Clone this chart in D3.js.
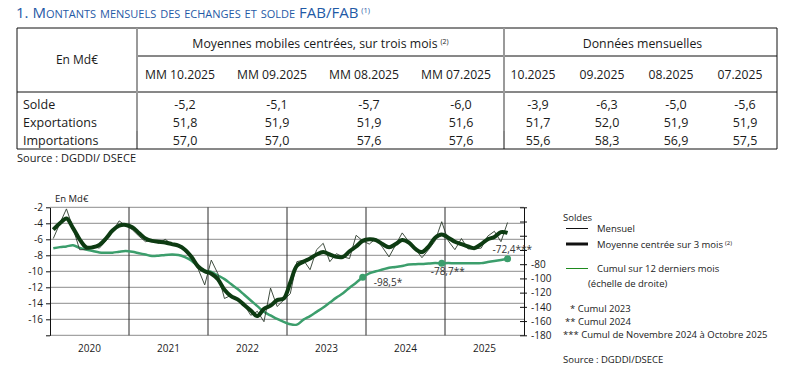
<!DOCTYPE html>
<html>
<head>
<meta charset="utf-8">
<script src="https://cdn.jsdelivr.net/npm/d3@7"></script>
<style>
body{margin:0;background:#fff;}
text{font-family:'Open Sans',sans-serif;fill:#1a1a1a;}
</style>
</head>
<body>
<svg id="chart" width="785" height="369"></svg>
<script>
'use strict';

// table
var tableCols = ['MM 10.2025','MM 09.2025','MM 08.2025','MM 07.2025','10.2025','09.2025','08.2025','07.2025'];
var rowLabels = ['Solde','Exportations','Importations'];
var soldeRow = ['-5,2','-5,1','-5,7','-6,0','-3,9','-6,3','-5,0','-5,6'];
var exportRow = ['51,8','51,9','51,9','51,6','51,7','52,0','51,9','51,9'];
var importRow = ['57,0','57,0','57,6','57,6','55,6','58,3','56,9','57,5'];

// chart, Jan 2020 -> Oct 2025
var years = ['2020','2021','2022','2023','2024','2025'];
var mensuel = [
	-5.9,-4.0,-2.2,-4.6,-7.3,-7.3,-6.9,-7.1,-6.2,-5.0,-3.7,-4.3,
	-4.8,-5.6,-6.3,-6.1,-6.5,-6.0,-6.6,-6.7,-7.3,-8.3,-9.7,-11.7,
	-8.6,-10.3,-13.4,-13.0,-13.6,-14.2,-15.5,-15.0,-16.3,-12.1,-14.4,-13.6,
	-12.8,-8.8,-8.6,-9.8,-7.3,-6.5,-8.8,-7.8,-8.2,-8.4,-5.5,-6.2,
	-6.6,-5.9,-7.0,-8.2,-6.7,-5.2,-6.3,-7.2,-8.3,-7.3,-6.2,-3.8,
	-6.2,-7.3,-5.9,-7.2,-7.2,-7.1,-5.6,-5.0,-6.3,-3.9];
var moyenne = [
	-4.8,-4.0,-3.4,-4.6,-6.0,-7.0,-7.0,-6.7,-5.9,-4.9,-4.3,-4.2,
	-4.5,-5.2,-5.9,-6.2,-6.3,-6.4,-6.6,-6.8,-7.3,-8.2,-9.4,-10.0,
	-10.3,-11.0,-12.3,-13.1,-13.5,-14.2,-14.9,-15.6,-14.7,-14.3,-13.6,-13.4,
	-11.4,-9.3,-8.8,-8.4,-7.9,-7.6,-7.9,-8.2,-8.2,-7.5,-6.9,-6.2,
	-6.0,-6.1,-6.6,-7.0,-6.6,-6.1,-6.4,-7.2,-7.6,-6.9,-5.8,-5.4,
	-5.8,-6.3,-6.6,-6.9,-7.1,-6.6,-6.0,-5.7,-5.1,-5.2];
var cumul = [
	-57.7,-56.0,-55.0,-53.5,-57.0,-59.5,-61.5,-63.5,-63.8,-63.8,-62.5,-61.5,
	-62.5,-64.5,-66.5,-68.5,-68.0,-67.0,-66.5,-67.0,-70.0,-75.0,-83.5,-89.0,
	-91.0,-96.0,-101.0,-108.0,-115.0,-123.0,-131.0,-139.0,-147.0,-152.0,-157.0,-161.0,
	-164.5,-165.0,-158.0,-153.0,-147.0,-141.0,-134.0,-127.0,-121.0,-113.0,-106.0,-98.5,
	-93.0,-90.0,-87.5,-85.0,-84.0,-82.5,-80.5,-80.0,-79.7,-79.0,-78.5,-78.7,
	-78.5,-78.8,-78.8,-78.8,-78.8,-78.5,-77.0,-75.5,-74.0,-72.4];
var cumulMarks = [47, 59, 69];
var cumulLabels = ['-98,5*','-78,7**','-72,4***'];

(function(){
var svg = d3.select('#chart');

//Title
var title = svg.append('text')
	.attr('x', 16).attr('y', 18)
	.style('fill', '#1f5aa6')
	.style('font-size', '15px');
title.append('tspan').text('1. ');
title.append('tspan').style('font-variant', 'small-caps').text('Montants mensuels des echanges et solde');
title.append('tspan').text(' FAB/FAB');
title.append('tspan').attr('dx', 3).attr('dy', -5).style('font-size', '7.5px').text('(1)');

//Table
var tL = 17, tR = 777, tTop = 28, tMid = 56, tHead = 92, tBot = 149, div1 = 137, div2 = 504;
var rowY = [104, 122.5, 140.5];

var mmX = d3.scalePoint().domain(tableCols.slice(0,4)).range([180, 456]);
var monX = d3.scalePoint().domain(tableCols.slice(4)).range([533, 740]);
function colX(c){ return c.indexOf('MM') === 0 ? mmX(c) : monX(c); }

var grid = svg.append('g');
grid.append('line').attr('x1', tL).attr('x2', tR).attr('y1', tTop).attr('y2', tTop).attr('stroke', '#111');
grid.append('line').attr('x1', div1).attr('x2', tR).attr('y1', tMid).attr('y2', tMid).attr('stroke', '#111');
grid.append('line').attr('x1', tL).attr('x2', tR).attr('y1', tHead).attr('y2', tHead).attr('stroke', '#111');
grid.append('line').attr('x1', tL).attr('x2', tR).attr('y1', tBot).attr('y2', tBot).attr('stroke', '#111');
[tL, tR].forEach(function(xx){
	grid.append('line').attr('x1', xx).attr('x2', xx).attr('y1', tTop).attr('y2', tBot).attr('stroke', '#111');
});
[div1, div2].forEach(function(xx){
	grid.append('line').attr('x1', xx).attr('x2', xx).attr('y1', tTop).attr('y2', 131).attr('stroke', '#9a9a9a').attr('stroke-width', 2);
	grid.append('line').attr('x1', xx).attr('x2', xx).attr('y1', 131).attr('y2', tBot).attr('stroke', '#111');
});

svg.append('text').attr('x', (tL + div1) / 2).attr('y', 64).attr('text-anchor', 'middle')
	.style('font-size', '12px').text('En Md€');
var h1 = svg.append('text').attr('x', (div1 + div2) / 2).attr('y', 48).attr('text-anchor', 'middle')
	.style('font-size', '12.3px');
h1.append('tspan').text('Moyennes mobiles centrées, sur trois mois');
h1.append('tspan').attr('dx', 3).attr('dy', -4).style('font-size', '7px').text('(2)');
svg.append('text').attr('x', (div2 + tR) / 2 + 2).attr('y', 48).attr('text-anchor', 'middle')
	.style('font-size', '12.3px').text('Données mensuelles');

svg.selectAll('.colhead')
	.data(tableCols)
	.enter()
	.append('text')
	.classed('colhead', 1)
	.attr('x', function(d){ return colX(d); })
	.attr('y', 79)
	.attr('text-anchor', 'middle')
	.style('font-size', '12.2px')
	.text(function(d){ return d; });

svg.selectAll('.rowlabel')
	.data(rowLabels)
	.enter()
	.append('text')
	.classed('rowlabel', 1)
	.attr('x', 23)
	.attr('y', function(d, i){ return rowY[i] + 4.5; })
	.style('font-size', '12.5px')
	.text(function(d){ return d; });

[soldeRow, exportRow, importRow].forEach(function(row, r){
	svg.append('g').selectAll('text')
		.data(row)
		.enter()
		.append('text')
		.attr('x', function(d, i){ return colX(tableCols[i]) + 5; })
		.attr('y', rowY[r] + 4.5)
		.attr('text-anchor', 'middle')
		.style('font-size', '12.5px')
		.text(function(d){ return d; });
});

svg.append('text').attr('x', 17).attr('y', 161.5).style('font-size', '11px').text('Source : DGDDI/ DSECE');

//Chart
var pLeft = 50, pRight = 524, pTop = 207.3, pBottom = 335.3;
var x = d3.scaleBand().domain(d3.range(years.length * 12)).range([pLeft, pRight]);
var xm = function(i){ return x(i) + x.bandwidth() / 2; };
var yL = d3.scaleLinear().domain([-18, -2]).range([pBottom, pTop]);
var yR = d3.scaleLinear().domain([-180, 0]).range([pBottom, pTop]);

var plot = svg.append('g');
plot.selectAll('.hgrid')
	.data(d3.range(-18, -1, 2))
	.enter()
	.append('line')
	.classed('hgrid', 1)
	.attr('x1', pLeft).attr('x2', pRight)
	.attr('y1', function(d){ return yL(d); })
	.attr('y2', function(d){ return yL(d); })
	.attr('stroke', '#8c8c8c');
plot.selectAll('.vgrid')
	.data(years.slice(1))
	.enter()
	.append('line')
	.classed('vgrid', 1)
	.attr('x1', function(d, i){ return x((i + 1) * 12); })
	.attr('x2', function(d, i){ return x((i + 1) * 12); })
	.attr('y1', pTop).attr('y2', pBottom)
	.attr('stroke', '#2a2a2a');

plot.selectAll('.year')
	.data(years)
	.enter()
	.append('text')
	.classed('year', 1)
	.attr('x', function(d, i){ return x(i * 12) + x.bandwidth() * 6; })
	.attr('y', 352)
	.attr('text-anchor', 'middle')
	.style('font-size', '10px')
	.text(function(d){ return d; });

var axL = svg.append('g').attr('transform', 'translate(' + pLeft + ',0)')
	.call(d3.axisLeft(yL).tickValues(d3.range(-18, -1, 2)).tickSize(4).tickSizeOuter(0)
		.tickFormat(function(d){ return d === -18 ? '' : String(d); }));
var axR = svg.append('g').attr('transform', 'translate(' + pRight + ',0)')
	.call(d3.axisRight(yR).tickValues(d3.range(-180, 1, 20)).tickSize(3).tickSizeOuter(0)
		.tickFormat(function(d){ return d <= -80 ? String(d) : ''; }));
axR.selectAll('.tick line').attr('x1', -4);
[axL, axR].forEach(function(a){
	a.select('.domain').attr('stroke', '#111');
	a.selectAll('.tick line').attr('stroke', '#111');
	a.selectAll('text').style('font-size', '10px').style('font-family', "'Open Sans',sans-serif").attr('fill', '#1a1a1a');
});
axR.selectAll('text').attr('x', 7);

svg.append('text').attr('x', 55).attr('y', 202).style('font-size', '9.5px').text('En Md€');

//Annotations (under the lines)
var annDx = [11, -11, -15], annDy = [9, 12, -6];
svg.selectAll('.ann')
	.data(cumulMarks)
	.enter()
	.append('text')
	.classed('ann', 1)
	.attr('x', function(d, i){ return xm(d) + annDx[i]; })
	.attr('y', function(d, i){ return yR(cumul[d]) + annDy[i]; })
	.style('font-size', '10px')
	.style('fill', '#333')
	.text(function(d, i){ return cumulLabels[i]; });

var lineC = d3.line().x(function(d, i){ return xm(i); }).y(function(d){ return yR(d); }).curve(d3.curveCatmullRom);
var lineT = d3.line().x(function(d, i){ return xm(i); }).y(function(d){ return yL(d); });
var lineM = d3.line().x(function(d, i){ return xm(i); }).y(function(d){ return yL(d); }).curve(d3.curveCatmullRom);

svg.append('path').attr('d', lineC(cumul)).attr('fill', 'none').attr('stroke', '#3c9e6c').attr('stroke-width', 2.5);
svg.selectAll('.dot')
	.data(cumulMarks)
	.enter()
	.append('circle')
	.classed('dot', 1)
	.attr('cx', function(d){ return xm(d); })
	.attr('cy', function(d){ return yR(cumul[d]); })
	.attr('r', 3.5)
	.attr('fill', '#3c9e6c');
svg.append('path').attr('d', lineT(mensuel)).attr('fill', 'none').attr('stroke', '#2b3a2b').attr('stroke-width', 0.9);
svg.append('path').attr('d', lineM(moyenne)).attr('fill', 'none').attr('stroke', '#0d3b12').attr('stroke-width', 4).attr('stroke-linejoin', 'round');

//Legend
var lg = svg.append('g');
lg.append('text').attr('x', 563).attr('y', 221).style('font-size', '9.5px').text('Soldes');
lg.append('line').attr('x1', 566).attr('x2', 588).attr('y1', 228.5).attr('y2', 228.5).attr('stroke', '#111').attr('stroke-width', 1);
lg.append('text').attr('x', 597).attr('y', 232).style('font-size', '9.5px').text('Mensuel');
lg.append('line').attr('x1', 566).attr('x2', 588).attr('y1', 244).attr('y2', 244).attr('stroke', '#111').attr('stroke-width', 3);
var lm = lg.append('text').attr('x', 597).attr('y', 247.5).style('font-size', '9.5px');
lm.append('tspan').text('Moyenne centrée sur 3 mois');
lm.append('tspan').attr('dx', 2).attr('dy', -3).style('font-size', '6px').text('(2)');
lg.append('line').attr('x1', 566).attr('x2', 588).attr('y1', 268.5).attr('y2', 268.5).attr('stroke', '#1e8a1e').attr('stroke-width', 1);
lg.append('text').attr('x', 597).attr('y', 272).style('font-size', '9.5px').text('Cumul sur 12 derniers mois');
lg.append('text').attr('x', 588).attr('y', 287).style('font-size', '9.5px').text('(échelle de droite)');
lg.append('text').attr('x', 570).attr('y', 312).style('font-size', '9.5px').text('* Cumul 2023');
lg.append('text').attr('x', 565).attr('y', 325).style('font-size', '9.5px').text('** Cumul 2024');
lg.append('text').attr('x', 563).attr('y', 337.5).style('font-size', '9.5px').text('*** Cumul de Novembre 2024 à Octobre 2025');
lg.append('text').attr('x', 563).attr('y', 363).style('font-size', '9.5px').text('Source : DGDDI/DSECE');
})();
</script>
</body>
</html>
